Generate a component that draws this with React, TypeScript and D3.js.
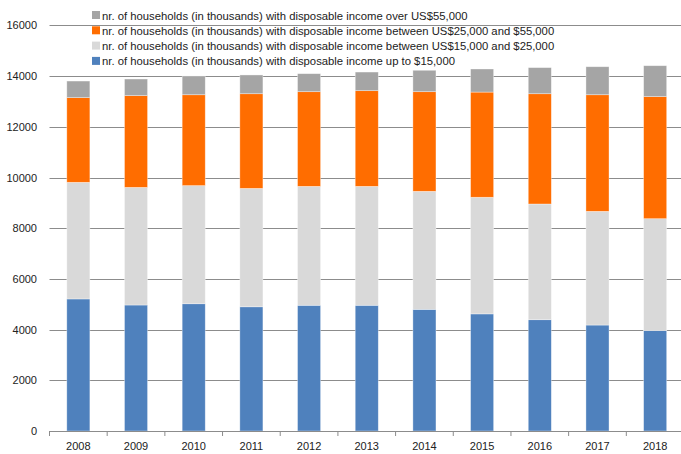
import React from "react";
import * as d3 from "d3";

const years = ["2008","2009","2010","2011","2012","2013","2014","2015","2016","2017","2018"];
const upTo15k = [5210, 4970, 5020, 4900, 4960, 4960, 4800, 4620, 4390, 4180, 3960];
const from15to25k = [4600, 4640, 4660, 4670, 4690, 4690, 4655, 4600, 4565, 4485, 4415];
const from25to55k = [3340, 3620, 3585, 3735, 3735, 3775, 3930, 4150, 4350, 4600, 4815];
const over55k = [655, 655, 740, 740, 710, 735, 845, 910, 1030, 1105, 1220];
const yTicks = [0, 2000, 4000, 6000, 8000, 10000, 12000, 14000, 16000];

const seriesNames = [
  "nr. of households (in thousands) with disposable income up to $15,000",
  "nr. of households (in thousands) with disposable income between US$15,000 and $25,000",
  "nr. of households (in thousands) with disposable income between US$25,000 and $55,000",
  "nr. of households (in thousands) with disposable income over US$55,000",
];
const colors = ["#4F81BD", "#D9D9D9", "#FF6D00", "#A5A5A5"];

export default function App() {
  const W = 681, H = 454;
  const left = 49.5, right = 684, top = 25.4, bottom = 431;
  const x = d3.scaleBand().domain(years).range([left, right]).paddingInner(0.6).paddingOuter(0.3);
  const y = d3.scaleLinear().domain([0, 16000]).range([bottom, top]);
  const table = years.map((yr, i) => ({ year: yr, s0: upTo15k[i], s1: from15to25k[i], s2: from25to55k[i], s3: over55k[i] }));
  const stack = d3.stack<any>().keys(["s0", "s1", "s2", "s3"])(table);
  const step = (right - left) / years.length;
  const font = "'Liberation Sans', Arial, sans-serif";
  const legendOrder = [3, 2, 1, 0];
  return (
    <svg width={W} height={H} style={{ position: "absolute", left: 0, top: 0, background: "#fff" }} fontFamily={font}>
      {yTicks.map((t) => (
        <g key={t}>
          <line x1={left} x2={right} y1={Math.round(y(t)) + 0.5} y2={Math.round(y(t)) + 0.5} stroke="#8C8C8C" strokeWidth={1} />
          <text x={37} y={y(t) + 4} textAnchor="end" fontSize={11} fill="#222">{t}</text>
        </g>
      ))}
      {stack.map((layer, si) => (
        <g key={si}>
          {layer.map((d, i) => (
            <rect key={i} x={x(years[i])!} width={x.bandwidth()} y={y(d[1])} height={y(d[0]) - y(d[1])} fill={colors[si]} stroke="#ffffff" strokeOpacity={0.5} strokeWidth={0.7} />
          ))}
        </g>
      ))}
      {years.map((yr, i) => (
        <g key={yr}>
          <line x1={left + i * step} x2={left + i * step} y1={bottom} y2={bottom + 5} stroke="#8C8C8C" />
          <text x={x(yr)! + x.bandwidth() / 2} y={450} textAnchor="middle" fontSize={11} fill="#222">{yr}</text>
        </g>
      ))}
      <line x1={left} x2={right} y1={bottom + 0.5} y2={bottom + 0.5} stroke="#8C8C8C" />
      {legendOrder.map((si, k) => (
        <g key={si} transform={`translate(92, ${11 + k * 15.3})`}>
          <rect x={0} y={0} width={8} height={8} fill={colors[si]} />
          <text x={10} y={8.5} fontSize={11.3} fill="#222">{seriesNames[si]}</text>
        </g>
      ))}
    </svg>
  );
}
